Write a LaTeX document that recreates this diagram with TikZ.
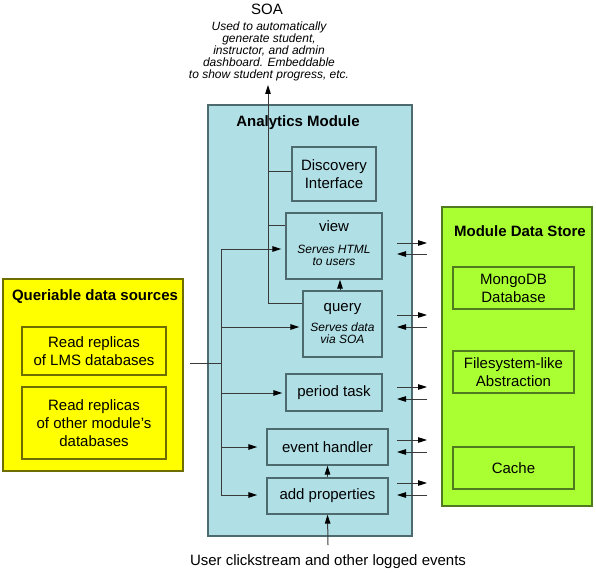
\documentclass[tikz,border=0pt]{standalone}
\usepackage{fontspec}
\setmainfont{Liberation Sans}
\usetikzlibrary{arrows.meta,calc}
\definecolor{bluefill}{HTML}{B0E0E6}
\definecolor{bluebd}{HTML}{4D6B6E}
\definecolor{yelfill}{HTML}{FFFF00}
\definecolor{yelbd}{HTML}{6E6E00}
\definecolor{grnfill}{HTML}{AAFF33}
\definecolor{grnbd}{HTML}{4F7A1F}
\definecolor{wirec}{HTML}{3A3A3A}
\tikzset{
  lbl/.style={font=\fontsize{15}{18}\selectfont, align=center, inner sep=0pt},
  itl/.style={font=\fontsize{12}{12}\selectfont\itshape, align=center, inner sep=0pt},
  ttl/.style={font=\fontsize{15}{18}\selectfont\bfseries, inner sep=0pt},
  bbox/.style={draw=bluebd, fill=bluefill, line width=1.3pt, inner sep=0pt, font=\fontsize{15}{18}\selectfont, align=center},
  ybox/.style={draw=yelbd, fill=yelfill, line width=1.3pt, inner sep=0pt, font=\fontsize{15}{18}\selectfont, align=center},
  gbox/.style={draw=grnbd, fill=grnfill, line width=1.3pt, inner sep=0pt, font=\fontsize{15}{18}\selectfont, align=center},
  wire/.style={draw=wirec, line width=1pt},
  arr/.style={wire, -{Triangle[length=9pt,width=5.5pt,color=black]}},
}
\begin{document}
\begin{tikzpicture}[x=1pt,y=-1pt]
\useasboundingbox (0,0) rectangle (596,572);
% containers
\node[bbox, minimum width=204pt, minimum height=431pt] (am) at (310,320.5) {};
\node[ybox, minimum width=180pt, minimum height=192pt] (qs) at (93,375) {};
\node[gbox, minimum width=150pt, minimum height=299pt] (ds) at (517,356.5) {};
% SOA text
\node[lbl] (soa) at (267,9) {SOA};
\node[itl] (desc) at (269,51) {Used to automatically\\generate student,\\instructor, and admin\\dashboard. Embeddable\\to show student progress, etc.};
% trunk to SOA (drawn before title)
\coordinate (j1) at (268,303);
\coordinate (soatip) at (268,85);
\coordinate (jd) at (268,171);
\coordinate (jv) at (268,225);
% inner boxes
\node[bbox, minimum width=84pt, minimum height=54pt] (disc) at (334,174) {Discovery\\Interface};
\node[bbox, minimum width=96pt, minimum height=66pt] (view) at (334,246) {};
\node[bbox, minimum width=79pt, minimum height=66pt] (query) at (342.5,324) {};
\node[bbox, minimum width=96pt, minimum height=37pt] (period) at (334,392.5) {period task};
\node[bbox, minimum width=121pt, minimum height=36pt] (event) at (327.5,447) {event handler};
\node[bbox, minimum width=121pt, minimum height=36pt] (addp) at (327.5,496) {add properties};
\node[lbl] (viewt) at (334,226) {view};
\node[itl] (viewd) at (334,255) {Serves HTML\\to users};
\node[lbl] (queryt) at (342.5,309) {query};
\node[itl] (queryd) at (342.5,333) {Serves data\\via SOA};
\draw[arr] (query.west |- j1) -- (j1) -- (soatip);
\draw[wire] (jd) -- (disc.west |- jd);
\draw[wire] (jv) -- (view.west |- jv);
\node[ttl] (amt) at (298,123) {Analytics Module};
% queriable sources
\node[ttl] (qst) at (95,297) {Queriable data sources};
\node[ybox, minimum width=144pt, minimum height=48pt] (lms) at (94,351) {Read replicas\\of LMS databases};
\node[ybox, minimum width=144pt, minimum height=72pt] (oth) at (94,423) {Read replicas\\of other module's\\databases};
% data store
\node[ttl] (dst) at (520,231) {Module Data Store};
\node[gbox, minimum width=121pt, minimum height=42pt] (mongo) at (513.5,288) {MongoDB\\Database};
\node[gbox, minimum width=121pt, minimum height=42pt] (fs) at (513.5,372) {Filesystem-like\\Abstraction};
\node[gbox, minimum width=121pt, minimum height=42pt] (cache) at (513.5,468) {Cache};
% left trunk
\coordinate (in1) at (190,363);
\coordinate (in2) at (221,363);
\coordinate (t1) at (221,249);
\coordinate (t2) at (221,327);
\coordinate (t3) at (221,393);
\coordinate (t4) at (221,447);
\coordinate (t5) at (221,495);
\draw[wire] (in1) -- (in2);
\draw[wire] (t1) -- (t5);
\draw[arr, shorten >=4pt] (t1) -- (view.west |- t1);
\draw[arr, shorten >=3pt] (t2) -- (query.west |- t2);
\draw[arr, shorten >=3pt] (t3) -- (period.west |- t3);
\draw[arr, shorten >=9pt] (t4) -- (event.west |- t4);
\draw[arr, shorten >=9pt] (t5) -- (addp.west |- t5);
% vertical links
\draw[arr] (query.north -| 340,0) -- (view.south -| 340,0);
\draw[arr] (addp.north) -- (event.south);
\coordinate (user) at (328,545);
\draw[arr] (user) -- (addp.south);
\node[lbl] (usert) at (328,562) {User clickstream and other logged events};
% data store arrows
\foreach \i/\ya/\yb in {1/243/254, 2/315/327, 3/387/399, 4/440/452, 5/483/495}{
  \coordinate (ra\i) at (397,\ya);
  \coordinate (rb\i) at (427,\ya);
  \coordinate (la\i) at (427,\yb);
  \coordinate (lb\i) at (397,\yb);
  \draw[arr] (ra\i) -- (rb\i);
  \draw[arr] (la\i) -- (lb\i);
}
\end{tikzpicture}
\end{document}
